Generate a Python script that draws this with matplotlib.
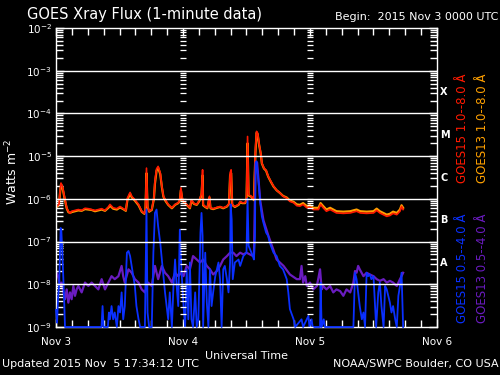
import numpy as np
import matplotlib
matplotlib.use('Agg')
import matplotlib.pyplot as plt
from matplotlib.ticker import LogLocator, FixedLocator, MultipleLocator, NullFormatter

# time in hours since 2015 Nov 3 00:00 UTC, flux as log10(W m^-2)
t_long = [0.0, 0.13, 0.57, 0.76, 0.94, 1.2, 1.39, 1.7, 2.02, 2.33,
          2.65, 2.96, 3.59, 4.22, 4.85, 5.48, 6.11, 6.74, 7.37, 8.0,
          8.63, 9.26, 9.89, 10.2, 10.8, 11.5, 12.1, 12.7, 13.2, 13.5,
          14.0, 14.3, 14.9, 15.6, 16.2, 16.7, 16.9, 17.1, 17.3, 17.6,
          18.1, 18.5, 18.7, 19.0, 19.3, 19.7, 20.0, 20.3, 20.7, 21.2,
          21.9, 22.5, 23.1, 23.4, 23.6, 23.9, 24.1, 24.7, 25.3, 25.6,
          26.1, 26.6, 27.1, 27.5, 27.7, 27.8, 28.2, 28.6, 29.0, 29.2,
          29.7, 30.4, 31.0, 31.6, 32.3, 32.7, 32.9, 33.1, 33.3, 33.8,
          34.5, 34.8, 35.2, 35.7, 36.0, 36.2, 36.4, 36.9, 37.4, 37.7,
          37.9, 38.1, 38.4, 38.7, 38.9, 39.3, 39.7, 40.1, 40.6, 41.1,
          41.7, 42.3, 42.9, 43.6, 44.2, 44.9, 45.5, 46.1, 46.7, 47.4,
          48.0, 48.6, 49.6, 50.0, 50.5, 51.1, 51.8, 52.4, 53.0, 54.3,
          55.6, 56.8, 57.5, 58.7, 60.0, 60.6, 61.2, 62.5, 63.1, 63.7,
          64.4, 65.0, 65.3, 65.6]
goes15_long = [-6.18, -6.17, -6.13, -5.82, -5.63, -5.70, -5.82, -6.02, -6.21, -6.29,
               -6.34, -6.29, -6.27, -6.25, -6.27, -6.22, -6.23, -6.25, -6.27, -6.25,
               -6.23, -6.27, -6.19, -6.13, -6.21, -6.23, -6.18, -6.23, -6.27, -5.98,
               -5.85, -5.94, -6.02, -6.13, -6.29, -6.34, -6.25, -5.28, -6.17, -6.29,
               -6.25, -5.98, -5.59, -5.30, -5.24, -5.39, -5.70, -5.94, -6.03, -6.13,
               -6.21, -6.13, -6.09, -6.02, -5.74, -6.02, -6.06, -6.13, -6.21, -6.02,
               -6.11, -6.13, -6.03, -5.87, -5.32, -6.13, -6.18, -6.21, -5.94, -6.21,
               -6.23, -6.20, -6.18, -6.21, -6.17, -6.11, -5.39, -5.32, -6.13, -6.18,
               -6.13, -6.06, -6.09, -6.09, -6.03, -4.54, -5.90, -5.94, -6.02, -4.81,
               -4.42, -4.46, -4.73, -4.93, -5.16, -5.28, -5.33, -5.47, -5.59, -5.70,
               -5.80, -5.86, -5.94, -5.98, -6.06, -6.09, -6.16, -6.17, -6.13, -6.21,
               -6.19, -6.25, -6.25, -6.13, -6.21, -6.29, -6.25, -6.29, -6.33, -6.34,
               -6.33, -6.29, -6.33, -6.34, -6.33, -6.27, -6.33, -6.41, -6.39, -6.34,
               -6.37, -6.29, -6.18, -6.25]
goes13_long = [-6.20, -6.19, -6.15, -5.86, -5.66, -5.72, -5.84, -6.04, -6.22, -6.31,
               -6.33, -6.31, -6.29, -6.27, -6.28, -6.24, -6.25, -6.26, -6.29, -6.27,
               -6.25, -6.28, -6.21, -6.16, -6.23, -6.25, -6.20, -6.24, -6.28, -6.02,
               -5.88, -5.96, -6.04, -6.15, -6.30, -6.35, -6.27, -5.40, -6.19, -6.30,
               -6.26, -6.00, -5.64, -5.34, -5.27, -5.42, -5.72, -5.95, -6.05, -6.14,
               -6.22, -6.14, -6.10, -6.04, -5.80, -6.04, -6.07, -6.14, -6.22, -6.05,
               -6.12, -6.14, -6.05, -5.90, -5.45, -6.15, -6.19, -6.22, -5.97, -6.22,
               -6.24, -6.21, -6.19, -6.22, -6.18, -6.12, -5.45, -5.40, -6.14, -6.19,
               -6.14, -6.08, -6.10, -6.10, -6.05, -4.70, -5.92, -5.95, -6.03, -4.90,
               -4.45, -4.48, -4.75, -4.95, -5.17, -5.29, -5.34, -5.48, -5.60, -5.71,
               -5.80, -5.86, -5.93, -5.97, -6.04, -6.07, -6.13, -6.14, -6.10, -6.17,
               -6.15, -6.21, -6.21, -6.10, -6.17, -6.25, -6.21, -6.25, -6.29, -6.30,
               -6.29, -6.25, -6.29, -6.30, -6.29, -6.23, -6.29, -6.37, -6.35, -6.30,
               -6.33, -6.25, -6.15, -6.21]

# short channel, values at the floor (-9) sit on the bottom of the plot
t_short15 = [0.0, 0.2, 0.4, 0.6, 0.76, 0.88, 1.0, 1.2, 1.39, 1.58,
             1.7, 8.6, 8.8, 9.0, 9.8, 10.0, 10.2, 10.5, 10.8, 11.1,
             11.5, 11.8, 12.1, 12.4, 12.7, 13.0, 13.4, 13.7, 14.0, 14.3,
             14.6, 14.9, 15.2, 15.6, 15.9, 16.8, 17.1, 17.3, 17.6, 18.1,
             18.4, 18.7, 19.0, 19.3, 19.7, 20.0, 20.3, 20.6, 20.9, 21.2,
             21.5, 21.9, 22.2, 22.5, 22.8, 23.1, 23.4, 23.7, 24.1, 24.4,
             24.7, 25.0, 25.3, 25.6, 25.9, 26.3, 26.6, 26.9, 27.3, 27.5,
             27.7, 27.8, 28.2, 28.5, 28.8, 29.1, 29.4, 29.7, 30.1, 30.4,
             30.7, 31.0, 31.3, 31.6, 31.9, 32.3, 32.6, 32.9, 33.0, 33.2,
             33.4, 33.8, 34.5, 34.8, 35.4, 36.0, 36.2, 36.4, 36.8, 37.2,
             37.4, 37.6, 37.7, 37.9, 38.1, 38.3, 38.6, 38.9, 39.2, 39.7,
             40.1, 40.4, 41.1, 41.7, 42.3, 42.9, 43.6, 43.9, 44.2, 44.9,
             45.2, 46.4, 46.7, 47.7, 47.9, 48.3, 48.5, 49.9, 50.0, 50.2,
             50.6, 50.8, 56.2, 56.5, 56.8, 57.1, 57.4, 57.8, 58.1, 58.4,
             58.7, 59.0, 59.3, 59.6, 60.0, 60.3, 60.5, 60.9, 61.2, 61.5,
             61.9, 62.2, 62.5, 62.8, 63.1, 63.4, 63.7, 64.1, 64.4, 64.7,
             65.0, 65.3, 65.6]
goes15_short = [-8.6, -8.9, -8.3, -8.0, -7.26, -6.68, -6.72, -7.26, -7.88, -8.51,
                -9.0, -9.0, -8.51, -9.0, -9.0, -8.66, -8.82, -8.51, -8.82, -8.66,
                -9.0, -8.51, -8.66, -8.19, -8.82, -8.51, -7.26, -7.22, -7.34, -7.57,
                -7.81, -8.04, -8.51, -8.82, -9.0, -9.0, -6.25, -8.66, -9.0, -9.0,
                -7.26, -6.33, -6.25, -6.64, -7.03, -7.42, -7.81, -8.19, -8.51, -8.82,
                -8.19, -9.0, -8.04, -7.42, -8.04, -8.51, -6.72, -7.65, -8.51, -9.0,
                -7.65, -8.82, -7.49, -8.82, -9.0, -8.19, -9.0, -8.82, -6.79, -6.33,
                -6.87, -9.0, -7.26, -8.43, -9.0, -7.65, -8.51, -8.19, -7.81, -7.65,
                -7.49, -7.88, -9.0, -7.65, -7.57, -7.88, -8.19, -7.49, -6.13, -6.48,
                -7.88, -7.49, -7.42, -7.57, -7.34, -7.26, -6.0, -7.1, -7.22, -7.34,
                -7.42, -6.87, -5.16, -5.12, -5.39, -5.63, -6.09, -6.41, -6.56, -6.79,
                -6.87, -7.03, -7.26, -7.34, -7.57, -7.65, -7.88, -8.19, -8.58, -8.82,
                -9.0, -8.82, -9.0, -8.74, -9.0, -8.82, -9.0, -9.0, -7.96, -9.0,
                -8.82, -9.0, -9.0, -7.73, -7.88, -8.19, -8.51, -8.82, -8.66, -9.0,
                -7.73, -7.81, -7.77, -7.88, -7.81, -8.51, -9.0, -8.19, -7.96, -8.51,
                -9.0, -8.04, -8.12, -8.27, -8.43, -8.66, -8.51, -8.82, -9.0, -8.27,
                -8.04, -7.73, -9.0]

t_short13 = [0.0, 0.13, 0.44, 0.76, 1.07, 1.39, 1.7, 2.02, 2.33, 2.65,
             2.96, 3.28, 3.59, 3.9, 4.22, 4.85, 5.48, 6.11, 6.74, 7.37,
             8.0, 8.63, 9.26, 9.89, 10.5, 11.1, 11.8, 12.4, 12.7, 13.0,
             13.7, 14.3, 14.9, 15.6, 16.2, 16.8, 17.4, 18.1, 18.7, 19.3,
             20.0, 20.6, 21.2, 21.9, 22.5, 23.1, 23.7, 24.1, 24.7, 25.3,
             25.9, 26.6, 27.2, 27.8, 28.5, 29.1, 29.7, 30.4, 31.0, 31.6,
             32.3, 32.9, 33.5, 34.1, 34.8, 35.4, 36.0, 37.4, 37.7, 38.0,
             38.6, 39.2, 40.1, 41.1, 41.7, 43.0, 44.2, 45.5, 46.1, 46.4,
             46.7, 47.1, 47.4, 48.0, 48.6, 49.3, 49.9, 50.2, 50.5, 51.1,
             51.8, 52.4, 53.0, 53.7, 54.3, 54.9, 55.6, 56.2, 56.5, 56.8,
             57.1, 57.4, 58.1, 58.7, 59.3, 60.0, 60.6, 61.2, 61.9, 62.5,
             63.1, 63.7, 64.4, 65.0, 65.3, 65.6]
goes13_short = [-7.88, -7.73, -7.81, -8.04, -7.96, -8.19, -8.35, -8.12, -8.43, -8.19,
                -8.35, -8.04, -8.27, -8.12, -8.04, -8.19, -7.96, -8.04, -7.96, -8.04,
                -8.12, -7.88, -8.12, -7.96, -7.81, -7.88, -7.81, -7.57, -7.81, -7.96,
                -7.65, -7.73, -7.88, -7.96, -8.12, -8.19, -7.96, -8.04, -7.57, -7.88,
                -7.57, -7.73, -7.81, -7.96, -7.73, -7.81, -7.73, -7.81, -7.57, -7.65,
                -7.34, -7.42, -7.49, -7.42, -7.57, -7.65, -7.77, -7.69, -7.57, -7.42,
                -7.34, -7.26, -7.26, -7.34, -7.26, -7.30, -7.26, -7.35, -5.25, -5.15,
                -6.05, -6.5, -6.85, -7.2, -7.42, -7.57, -7.77, -7.88, -7.88, -7.57,
                -7.96, -7.81, -8.04, -7.96, -8.12, -8.04, -7.65, -8.12, -8.04, -8.12,
                -8.04, -8.19, -8.12, -8.16, -8.27, -8.12, -8.19, -7.96, -7.69, -7.73,
                -7.57, -7.65, -7.81, -7.73, -7.77, -7.81, -7.88, -7.92, -7.88, -7.96,
                -7.92, -7.96, -8.04, -7.88, -7.81, -7.73]

day_labels = ['Nov 3', 'Nov 4', 'Nov 5', 'Nov 6']
class_labels = ['A', 'B', 'C', 'M', 'X']

RED = '#ff1a00'
ORANGE = '#ffa000'
BLUE = '#0a30ff'
PURPLE = '#6a1cc0'

plt.rcParams['font.family'] = ['DejaVu Sans']
fig = plt.figure(figsize=(5, 3.75), dpi=100, facecolor='black')
ax = fig.add_axes([56 / 500, 1 - 327 / 375, 381 / 500, 299 / 375], facecolor='black')

ax.plot(t_short13, 10.0 ** np.array(goes13_short), color=PURPLE, lw=1.6, zorder=1)
ax.plot(t_short15, 10.0 ** np.array(goes15_short), color=BLUE, lw=1.3, zorder=2.6,
        clip_on=False)
ax.plot(t_long, 10.0 ** np.array(goes13_long), color=ORANGE, lw=1.6, zorder=1)
ax.plot(t_long, 10.0 ** np.array(goes15_long), color=RED, lw=1.2, zorder=2)

ax.set_yscale('log')
ax.set_ylim(1e-9, 1e-2)
ax.set_xlim(0, 72)

# white grid on top of the data
for p in range(-8, -2):
    ax.axhline(10.0 ** p, color='white', lw=1, zorder=3)

ax.xaxis.set_major_locator(FixedLocator([0, 24, 48, 72]))
ax.set_xticklabels(day_labels)
ax.xaxis.set_minor_locator(MultipleLocator(3))
ax.yaxis.set_major_locator(FixedLocator([10.0 ** p for p in range(-9, -1)]))
ax.yaxis.set_minor_locator(LogLocator(base=10, subs=np.arange(2, 10), numticks=12))
ax.yaxis.set_minor_formatter(NullFormatter())

ax.tick_params(which='both', direction='in', colors='white', top=True, right=True,
               labelsize=7.5, width=1)
ax.tick_params(which='major', length=6)
ax.tick_params(axis='x', which='major', pad=7)
ax.tick_params(axis='y', which='major', pad=3)
ax.tick_params(which='minor', length=5)
for s in ax.spines.values():
    s.set_color('white')
    s.set_linewidth(1)

# small tick marks along the day boundaries
yt = [m * 10.0 ** p for p in range(-9, -2) for m in range(1, 10)]
for d in [24, 48]:
    ax.plot([d] * len(yt), yt, ls='none', marker='_', ms=4, mew=0.9, color='white',
            zorder=3)

ax.set_xlabel('Universal Time', color='white', fontsize=8, labelpad=3)
ax.set_ylabel('Watts m$^{-2}$', color='white', fontsize=9)
ax.yaxis.set_label_coords(-36 / 381, 0.52)

# flare classes on the right side
for i, c in enumerate(class_labels):
    ax.text(1.008, 10.0 ** (-7.5 + i), c, transform=ax.get_yaxis_transform(),
            color='white', fontsize=7, fontweight='bold', va='center', ha='left')

fig.text(27 / 500, 1 - 14 / 375, 'GOES Xray Flux (1-minute data)', color='white',
         fontsize=10.5, va='center', ha='left')
fig.text(498 / 500, 1 - 17 / 375, 'Begin:  2015 Nov 3 0000 UTC', color='white',
         fontsize=8, va='center', ha='right')

fig.text(462 / 500, 1 - 128 / 375, 'GOES15 1.0--8.0 Å', color=RED, fontsize=8.5,
         rotation=90, va='center', ha='center')
fig.text(482 / 500, 1 - 128 / 375, 'GOES13 1.0--8.0 Å', color=ORANGE, fontsize=8.5,
         rotation=90, va='center', ha='center')
fig.text(462 / 500, 1 - 268 / 375, 'GOES15 0.5--4.0 Å', color=BLUE, fontsize=8.5,
         rotation=90, va='center', ha='center')
fig.text(482 / 500, 1 - 268 / 375, 'GOES13 0.5--4.0 Å', color=PURPLE, fontsize=8.5,
         rotation=90, va='center', ha='center')

fig.text(2 / 500, 1 - 364 / 375, 'Updated 2015 Nov  5 17:34:12 UTC', color='white',
         fontsize=8, va='center', ha='left')
fig.text(499 / 500, 1 - 364 / 375, 'NOAA/SWPC Boulder, CO USA', color='white',
         fontsize=8, va='center', ha='right')

fig.savefig('out.png', dpi=100, facecolor='black')
